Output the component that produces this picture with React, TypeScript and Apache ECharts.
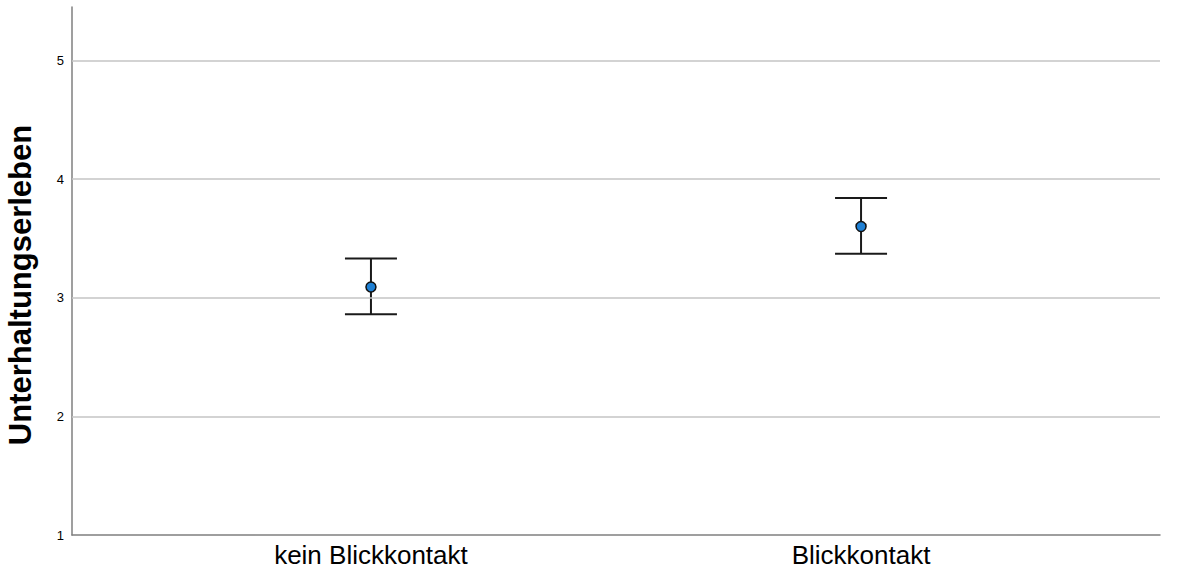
import { useEffect, useRef } from 'react'
import * as echarts from 'echarts'

// Gruppen und Kennwerte (Mittelwert mit Fehlerbalken)
const categories = ['kein Blickkontakt', 'Blickkontakt']
const positions = [1, 2]
const means = [3.09, 3.6]
const lower = [2.86, 3.37]
const upper = [3.33, 3.84]
const yTicks = [1, 2, 3, 4, 5]

const FONT = '"Liberation Sans", Arial, sans-serif'

export default function App() {
  const chartRef = useRef<HTMLDivElement>(null)

  useEffect(() => {
    if (!chartRef.current) return
    const chart = echarts.init(chartRef.current, undefined, { renderer: 'svg' })

    const option = {
      animation: false,
      grid: { left: 72, right: 21, top: 7, bottom: 41 },
      xAxis: {
        type: 'value',
        min: 0.39,
        max: 2.61,
        axisLine: { show: true, lineStyle: { color: '#7f7f7f', width: 1.5 } },
        axisTick: { show: false },
        splitLine: { show: false },
        axisLabel: {
          customValues: positions,
          formatter: (v: number) => categories[positions.indexOf(v)] ?? '',
          color: '#000',
          fontSize: 26,
          fontFamily: FONT,
          margin: 7,
        },
      },
      yAxis: {
        type: 'value',
        min: 1,
        max: 5.45,
        axisLine: { show: true, lineStyle: { color: '#7f7f7f', width: 1.5 } },
        axisTick: { show: false },
        splitLine: { show: false },
        axisLabel: {
          customValues: yTicks,
          color: '#000',
          fontSize: 13,
          fontFamily: FONT,
          margin: 8,
        },
      },
      graphic: [
        {
          type: 'text',
          x: 20,
          y: 285,
          rotation: Math.PI / 2,
          style: {
            text: 'Unterhaltungserleben',
            fontSize: 31,
            fontWeight: 'bold',
            fontFamily: FONT,
            fill: '#000',
            align: 'center',
            verticalAlign: 'middle',
          },
        },
      ],
      series: [
        {
          type: 'line',
          data: [],
          z: 1,
          markLine: {
            silent: true,
            symbol: 'none',
            label: { show: false },
            lineStyle: { color: '#c4c4c4', width: 1.5, type: 'solid' },
            data: yTicks.filter((v) => v > 1).map((v) => ({ yAxis: v })),
          },
        },
        {
          type: 'custom',
          z: 3,
          data: positions.map((p, i) => [p, lower[i], upper[i]]),
          renderItem: (_params: any, api: any) => {
            const x = api.value(0)
            const lo = api.coord([x, api.value(1)])
            const hi = api.coord([x, api.value(2)])
            const half = 26
            const style = { stroke: '#1a1a1a', lineWidth: 2 }
            return {
              type: 'group',
              children: [
                { type: 'line', shape: { x1: lo[0], y1: lo[1], x2: hi[0], y2: hi[1] }, style },
                { type: 'line', shape: { x1: hi[0] - half, y1: hi[1], x2: hi[0] + half, y2: hi[1] }, style },
                { type: 'line', shape: { x1: lo[0] - half, y1: lo[1], x2: lo[0] + half, y2: lo[1] }, style },
              ],
            }
          },
        },
        {
          type: 'scatter',
          z: 4,
          symbol: 'circle',
          symbolSize: 10,
          itemStyle: { color: '#1f80d4', borderColor: '#111', borderWidth: 1.5, opacity: 1 },
          data: positions.map((p, i) => [p, means[i]]),
        },
      ],
    }

    chart.setOption(option)
    return () => {
      chart.dispose()
    }
  }, [])

  return (
    <div
      ref={chartRef}
      style={{ position: 'absolute', left: 0, top: 0, width: 1181, height: 576, background: '#fff' }}
    />
  )
}
